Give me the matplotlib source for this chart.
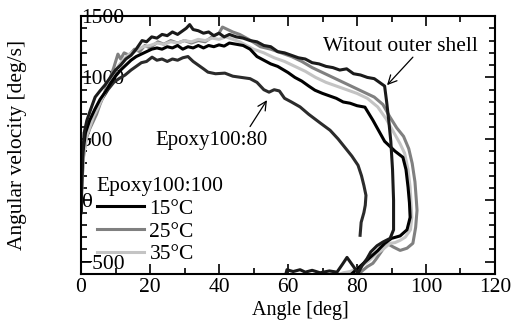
import numpy as np
import matplotlib
matplotlib.use("Agg")
import matplotlib.pyplot as plt
from matplotlib.ticker import MultipleLocator

# data (angle [deg], angular velocity [deg/s])
ang_ws = [0, 0.2, 0.5, 1, 1.7, 2.8, 4.1, 5.5, 7, 8.5, 10, 11.5, 13, 14.5, 16, 17.7, 19, 20.5, 22, 23.5,
          25, 26.5, 28, 29.5, 30.5, 31.5, 32.5, 34, 35.5, 37, 38.5, 40, 41.5, 43, 45, 47, 49, 51, 53, 55,
          57, 59, 61, 63, 65, 67, 69, 71, 73, 75, 77, 79, 81, 83, 85, 86.5, 88, 88.6, 89.2, 89.8,
          90.3, 90.6, 90.6, 89.6, 87.5, 85.8, 84, 82.9, 81.5, 80.3, 79, 77.1, 75.8, 74.2, 72, 69.3,
          67, 65, 63.5, 61.5, 59.7, 59.2]
vel_ws = [-100, 150, 400, 560, 650, 740, 840, 890, 940, 1000, 1060, 1100, 1150, 1180, 1230, 1300, 1290, 1330, 1320, 1350,
          1340, 1370, 1350, 1380, 1400, 1430, 1390, 1380, 1360, 1370, 1340, 1360, 1330, 1350, 1330, 1320, 1300, 1290, 1260, 1250,
          1210, 1200, 1180, 1160, 1150, 1120, 1110, 1090, 1080, 1060, 1070, 1030, 1020, 1000, 990, 960, 930, 800, 650, 480,
          250, 0, -240, -310, -340, -370, -420, -475, -530, -595, -540, -465, -520, -585, -575, -590,
          -570, -585, -565, -580, -565, -620]

ang_80 = [0, 0.2, 0.6, 1.2, 2, 3, 4.5, 6, 7.8, 9.5, 11, 12.8, 14.5, 16, 17.5, 19, 20.6, 22, 23.5, 25,
          26.5, 28, 29.5, 31, 32.5, 34, 35.5, 36.8, 39, 41.7, 44, 46.5, 49, 51, 53, 54.5, 56, 57.5, 59, 61,
          63.5, 66, 69.3, 72.2, 74.5, 76.5, 78.5, 80.3, 81.3, 82, 82.6, 82.4, 82, 81.2, 80.9]
vel_80 = [-100, 100, 350, 500, 580, 650, 740, 820, 900, 960, 990, 1020, 1060, 1090, 1120, 1130, 1165, 1140, 1150, 1130,
          1150, 1140, 1160, 1170, 1130, 1100, 1070, 1043, 1030, 1035, 1010, 1000, 990, 960, 900, 880, 900, 890, 830, 800,
          760, 700, 630, 570, 500, 430, 360, 285, 200, 120, 40, -40, -100, -180, -285]

ang_15 = [0, 0.2, 0.6, 1.3, 2.5, 4, 5.5, 7, 8.5, 10, 11.5, 13, 14.5, 16, 17.5, 19, 20.5, 22, 23.5, 25,
          26.5, 28, 29.5, 31, 32.5, 34, 35.5, 37, 38.5, 40, 41.5, 43, 45, 47, 49, 51, 53, 55, 57, 60,
          62, 64, 66, 67.8, 70, 72, 74, 76, 78, 80, 82.3, 84.6, 88, 91, 93.3, 94.2, 94.8, 95.2, 95.4, 94.5,
          92.5, 90, 88, 86, 84, 82, 80, 78]
vel_15 = [-100, 150, 400, 550, 650, 740, 820, 880, 950, 1010, 1060, 1100, 1140, 1170, 1190, 1210, 1230, 1240, 1230, 1250,
          1240, 1260, 1230, 1250, 1240, 1260, 1240, 1260, 1250, 1265, 1255, 1280, 1270, 1260, 1230, 1170, 1140, 1110, 1090, 1040,
          1000, 970, 930, 896, 870, 850, 830, 800, 790, 770, 758, 652, 480, 400, 350, 250, 106, -20, -139, -240,
          -290, -310, -350, -410, -460, -510, -560, -610]

ang_25 = [0, 0.2, 0.7, 1.5, 2.5, 3.5, 4.5, 5.5, 6.5, 7.5, 8.5, 9.5, 10.7, 11.5, 12.5, 14, 15.5, 17, 18.5, 20,
          22.3, 24, 26, 28, 30, 32, 34, 36, 38, 40, 41, 42.5, 44, 46, 49, 52, 55, 58, 61, 64,
          67, 70, 73, 76, 79, 82, 85, 87.5, 89.5, 91.5, 93.5, 95, 96, 96.8, 97.2, 97.4, 97, 96.2, 94.5, 92.5,
          90.5, 88.7, 87, 85.5, 84.6, 83, 81.7, 80]
vel_25 = [-100, 100, 350, 500, 580, 640, 700, 780, 850, 930, 1000, 1080, 1190, 1150, 1200, 1180, 1230, 1210, 1260, 1240,
          1290, 1270, 1300, 1280, 1300, 1280, 1300, 1290, 1330, 1360, 1410, 1390, 1370, 1350, 1304, 1250, 1230, 1200, 1170, 1130,
          1080, 1040, 1000, 960, 920, 880, 840, 780, 680, 590, 520, 420, 300, 150, 0, -82, -220, -350, -390, -408,
          -380, -350, -420, -480, -513, -540, -570, -611]

ang_35 = [0, 0.3, 0.8, 1.6, 2.6, 3.6, 5, 6.5, 8, 9.5, 11, 12.5, 14, 16, 18, 20, 22, 24, 26, 28,
          30, 32, 34, 36, 38, 40, 42, 44, 46, 48, 50, 53, 56, 59, 62, 65, 68, 71, 74, 77,
          80, 83, 86, 88.5, 90.5, 92.5, 93.8, 94.8, 95.4, 95.9, 95.5, 94, 92.5, 91, 89.6, 87.5, 85.8, 83.5, 80.9, 78,
          76, 74.2]
vel_35 = [-100, 150, 380, 520, 600, 680, 760, 850, 940, 1030, 1100, 1150, 1190, 1220, 1250, 1260, 1280, 1270, 1290, 1280,
          1300, 1290, 1310, 1300, 1320, 1310, 1330, 1310, 1290, 1260, 1230, 1200, 1160, 1130, 1090, 1050, 1000, 960, 930, 900,
          870, 830, 760, 660, 560, 460, 383, 250, 106, -139, -240, -300, -326, -345, -350, -400, -432, -490, -546, -580,
          -590, -610]

temp_labels = ["15°C", "25°C", "35°C"]
temp_colors = ["#000000", "#808080", "#c4c4c4"]

plt.rcParams["font.family"] = ["Liberation Serif", "DejaVu Serif"]
plt.rcParams["font.size"] = 15.5

fig = plt.figure(figsize=(5.18, 3.26), dpi=100)
ax = fig.add_axes([81 / 518, 1 - 274 / 326, 414 / 518, 258 / 326])

lw = 2.2
ax.plot(ang_80, vel_80, color="#2b2b2b", lw=lw)
h25, = ax.plot(ang_25, vel_25, color=temp_colors[1], lw=lw, label=temp_labels[1])
h35, = ax.plot(ang_35, vel_35, color=temp_colors[2], lw=lw, label=temp_labels[2])
h15, = ax.plot(ang_15, vel_15, color=temp_colors[0], lw=lw, label=temp_labels[0])
ax.plot(ang_ws, vel_ws, color="#1a1a1a", lw=lw)

ax.set_xlim(0, 120)
ax.set_ylim(-600, 1500)
ax.xaxis.set_major_locator(MultipleLocator(20))
ax.xaxis.set_minor_locator(MultipleLocator(10))
ax.yaxis.set_major_locator(MultipleLocator(500))
ax.yaxis.set_minor_locator(MultipleLocator(100))
ax.tick_params(which="both", direction="in", top=True, right=True, width=1.2)
ax.tick_params(which="major", length=7)
ax.tick_params(which="minor", length=4)
ax.tick_params(axis="x", pad=3)
ax.tick_params(axis="y", pad=0)
for lbl in ax.get_yticklabels():
    lbl.set_horizontalalignment("left")
for s in ax.spines.values():
    s.set_linewidth(1.5)

ax.set_xlabel("Angle [deg]", fontsize=14.5)
ax.set_ylabel("Angular velocity [deg/s]")
ax.xaxis.set_label_coords(0.53, -0.105)
ax.yaxis.set_label_coords(-0.13, 0.5)

ax.text(92.5, 1255, "Witout outer shell", ha="center", va="center")
ax.annotate("", xy=(88.7, 937), xytext=(96.2, 1165),
            arrowprops=dict(arrowstyle="->", color="black", lw=0.9, shrinkA=0, shrinkB=0))
ax.text(37.7, 490, "Epoxy100:80", ha="center", va="center", fontsize=15)
ax.annotate("", xy=(53.9, 815), xytext=(49, 600),
            arrowprops=dict(arrowstyle="->", color="black", lw=0.9, shrinkA=0, shrinkB=0))

leg = ax.legend(handles=[h15, h25, h35], title="Epoxy100:100", loc="upper left",
                bbox_to_anchor=(0.038, 0.375), frameon=False, borderpad=0, borderaxespad=0,
                handlelength=2.2, handletextpad=0.25, labelspacing=0.12, alignment="left",
                title_fontsize=15.5)

fig.savefig("out.png", dpi=100)
